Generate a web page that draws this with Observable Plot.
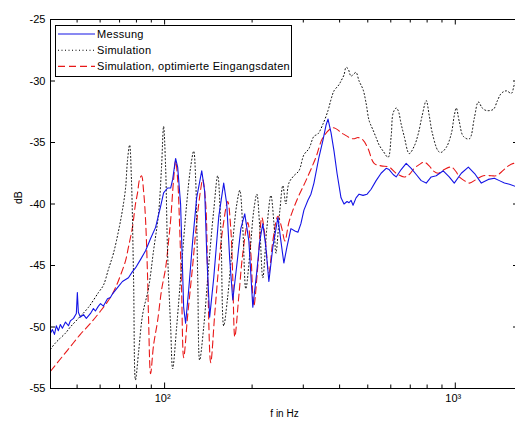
<!DOCTYPE html>
<html><head><meta charset="utf-8">
<script src="https://cdn.jsdelivr.net/npm/d3@7"></script>
<script src="https://cdn.jsdelivr.net/npm/@observablehq/plot@0.6"></script>
<style>body{margin:0;background:#fff;} svg{display:block;overflow:hidden}</style>
</head><body><div id="chart"></div>
<script>
const seriesNames = ["Messung", "Simulation", "Simulation, optimierte Eingangsdaten"];

const messungF = [40.5,41.1,41.8,42.4,43.1,43.8,44.5,45.6,46.7,47.4,48.6,49.7,50.1,50.5,51.3,52.6,53.8,55.6,56.9,57.8,59.2,60.2,61.6,63.6,65.1,66.2,69.4,71.6,75.1,77.5,79.4,82.7,86.0,89.5,93.1,96.9,99.2,102.4,104.9,106.6,109.1,110.9,113.5,116.3,118.1,121.0,124.9,128.9,134.2,137.4,139.6,142.9,147.6,153.6,159.7,163.6,167.5,171.6,177.1,182.9,188.7,194.9,201.1,207.6,212.6,217.7,223.0,228.4,235.7,245.3,251.2,257.2,263.5,272.0,280.7,287.5,294.4,301.5,311.2,318.7,326.4,339.6,350.6,359.1,364.9,373.7,382.7,391.9,404.5,414.2,424.3,431.0,437.9,444.9,455.6,466.7,481.7,497.3,513.3,534.1,555.6,578.3,592.2,611.3,626.1,651.3,677.8,705.3,733.9,763.4,794.3,826.4,860,909,953,992,1049,1109,1172,1229,1299,1363,1418,1476,1536,1623];
const messungDb = [-50.5,-50.2,-50.6,-49.9,-50.3,-49.8,-50.1,-49.6,-49.9,-49.5,-49.3,-48.9,-47.2,-48.8,-49.2,-49.0,-49.3,-48.9,-48.5,-48.7,-48.3,-48.1,-48.3,-47.7,-47.6,-47.3,-46.7,-46.3,-46.0,-45.5,-45.2,-44.5,-43.8,-42.8,-41.9,-40.2,-39.1,-38.7,-38.7,-38.0,-36.3,-37.0,-40.0,-48.4,-49.7,-47.0,-43.0,-39.5,-37.3,-39.0,-44.0,-49.2,-46.0,-41.0,-38.3,-40.0,-44.5,-47.8,-45.0,-42.0,-40.8,-43.0,-48.4,-45.5,-43.0,-41.6,-43.5,-46.3,-43.5,-41.1,-43.0,-44.8,-43.5,-42.0,-42.2,-42.3,-41.6,-40.5,-39.7,-39.2,-38.3,-36.2,-34.8,-33.6,-33.1,-34.2,-35.7,-37.5,-39.5,-40.0,-39.8,-39.9,-39.7,-40.1,-39.5,-39.2,-39.3,-39.2,-38.8,-38.1,-37.5,-37.1,-37.2,-37.6,-37.8,-37.2,-36.7,-37.1,-37.6,-38.1,-38.3,-37.8,-37.7,-37.3,-37.8,-38.3,-37.5,-37.0,-37.6,-38.3,-38.0,-37.9,-38.1,-38.3,-38.4,-38.6];

const simF = [40.5,42.1,43.8,45.6,47.4,50.5,54.7,59.2,61.6,64.1,66.7,69.4,71.6,73.4,74.5,75.8,76.9,78.2,79.4,81.4,84.0,88.1,91.6,95.3,97.6,99.2,100.8,102.4,104.9,106.6,110.0,114.4,119.1,122.9,125.9,127.9,130.0,132.0,136.3,141.8,147.6,152.3,156.1,159.7,164.9,171.6,177.2,181.4,185.8,190.3,196.5,202.7,207.6,212.6,217.7,224.7,232.1,237.6,241.5,249.2,255.2,261.3,267.6,278.5,289.8,301.5,313.7,326.4,337.0,350.6,364.9,373.7,382.7,398.1,404.5,414.2,420.9,427.6,437.9,448.5,455.6,466.7,481.7,493.3,505.1,521.5,534.1,547.0,564.7,587.5,601.7,611.3,626.1,636.1,651.3,667.2,694.2,722.3,745.6,769.5,794.3,813.4,833.0,873.8,894.7,931.1,968.7,992.2,1008,1032,1066,1118,1163,1200,1239,1279,1352,1396,1441,1499,1560,1597,1623];
const simDb = [-51.8,-51.3,-50.9,-50.5,-50.0,-49.3,-48.4,-47.2,-46.6,-45.3,-44.0,-42.2,-40.5,-38.7,-36.5,-35.2,-38.0,-46.0,-54.3,-52.0,-49.0,-46.8,-43.8,-40.8,-37.0,-33.7,-37.0,-44.0,-50.0,-53.4,-50.0,-45.0,-40.0,-37.0,-35.7,-38.0,-46.0,-52.7,-50.0,-45.0,-40.5,-37.7,-42.0,-49.9,-47.5,-43.0,-40.0,-38.9,-42.0,-46.9,-44.0,-40.5,-39.2,-42.0,-46.0,-42.0,-39.3,-41.5,-44.0,-40.5,-38.5,-40.0,-38.3,-37.7,-37.3,-36.0,-35.5,-34.5,-34.3,-33.5,-32.4,-31.5,-30.8,-30.3,-30.0,-29.5,-28.9,-29.0,-29.6,-29.4,-29.3,-30.0,-30.7,-31.8,-33.2,-34.0,-34.6,-35.2,-35.7,-36.2,-34.5,-32.6,-32.2,-32.4,-33.5,-34.5,-35.9,-35.3,-34.3,-32.8,-31.6,-32.8,-34.2,-35.7,-35.8,-35.4,-34.3,-32.8,-32.2,-33.3,-34.5,-34.7,-33.0,-31.7,-32.2,-32.4,-32.3,-31.6,-31.0,-30.8,-31.0,-30.3,-30.1];

const optF = [40.5,43.8,47.4,51.3,55.6,60.2,65.1,67.8,70.5,73.4,75.1,77.5,79.4,80.7,82.0,83.3,84.7,86.0,87.4,88.1,89.5,91.6,94.6,97.6,100.8,103.2,104.9,107.4,109.1,110.9,112.7,114.4,116.3,120.1,124.9,128.9,133.1,135.2,138.5,140.7,144.1,148.7,153.6,158.5,164.9,168.9,171.6,174.4,180.0,185.8,193.3,198.0,202.7,209.3,216.0,221.2,228.4,235.7,245.3,253.2,259.3,267.6,276.3,289.8,306.3,331.6,350.6,379.7,411.0,444.9,463.0,481.7,501.2,525.7,555.6,592.2,626.1,667.2,694.2,722.3,751.2,781.9,813.4,839.7,873.8,916.4,968.7,1008,1032,1074,1118,1181,1249,1331,1385,1441,1523,1585,1623];
const optDb = [-53.6,-52.6,-51.6,-50.6,-49.7,-48.7,-47.6,-46.8,-45.8,-44.6,-43.5,-41.9,-40.0,-39.1,-38.0,-37.7,-39.0,-41.3,-46.0,-49.5,-53.8,-51.5,-49.5,-47.0,-45.2,-43.0,-41.3,-38.0,-36.5,-38.0,-42.0,-47.0,-52.5,-49.0,-45.0,-41.5,-38.8,-38.0,-40.0,-46.0,-52.9,-49.0,-45.0,-42.0,-39.8,-42.0,-46.0,-50.8,-47.5,-44.0,-41.5,-44.0,-48.3,-45.0,-41.1,-42.5,-45.6,-43.0,-41.0,-42.0,-43.0,-41.5,-40.5,-39.3,-38.1,-36.2,-34.6,-33.8,-34.3,-34.7,-34.6,-34.8,-35.5,-36.7,-36.9,-37.0,-37.5,-37.8,-37.6,-37.1,-36.8,-36.6,-36.9,-37.3,-37.5,-37.2,-37.0,-37.4,-37.8,-38.1,-38.3,-38.0,-37.7,-37.7,-37.7,-37.4,-36.9,-36.7,-36.7];

const yTicks = [-55, -50, -45, -40, -35, -30, -25];
const xMajor = [100, 1000];
const xMajorLabels = ["10²", "10³"];
const xMinor = [50, 60, 70, 80, 90, 200, 300, 400, 500, 600, 700, 800, 900];
const xLabel = "f in Hz";
const yLabel = "dB";

const colors = ["#1414e6", "#000000", "#e81818"];

const toRows = (F, D) => F.map((f, i) => ({f, db: D[i]}));
const messung = toRows(messungF, messungDb);
const sim = toRows(simF, simDb);
const opt = toRows(optF, optDb);

const W = 515, H = 421, mL = 50, mT = 19, mR = -3, mB = 33;
const pw = W - mL - mR, ph = H - mT - mB;
const font = "'Liberation Sans', Arial, sans-serif";

const plot = Plot.plot({
  width: W, height: H,
  marginLeft: mL, marginTop: mT, marginRight: mR, marginBottom: mB,
  style: {fontFamily: font, fontSize: "11px", background: "white", color: "#000"},
  x: {type: "log", domain: [40.5, 1650], axis: null},
  y: {domain: [-55, -25], axis: null},
  marks: [
    Plot.line(opt, {x: "f", y: "db", stroke: colors[2], strokeWidth: 1.1, strokeDasharray: "7,4", curve: "catmull-rom", clip: true}),
    Plot.line(sim, {x: "f", y: "db", stroke: colors[1], strokeWidth: 1, strokeDasharray: "1,2.5", curve: "catmull-rom", clip: true}),
    Plot.line(messung, {x: "f", y: "db", stroke: colors[0], strokeWidth: 1.1, clip: true}),
    Plot.frame({stroke: "#000", strokeWidth: 1}),
    Plot.tickY(yTicks, {y: d => d, insetRight: pw - 5, stroke: "#000"}),
    Plot.tickY(yTicks, {y: d => d, insetLeft: pw - 5, stroke: "#000"}),
    Plot.tickX(xMinor, {x: d => d, insetTop: ph - 3.5, stroke: "#000"}),
    Plot.tickX(xMinor, {x: d => d, insetBottom: ph - 3.5, stroke: "#000"}),
    Plot.tickX(xMajor, {x: d => d, insetTop: ph - 5.5, stroke: "#000"}),
    Plot.tickX(xMajor, {x: d => d, insetBottom: ph - 5.5, stroke: "#000"}),
    Plot.text(yTicks, {y: d => d, text: d => String(d), frameAnchor: "left", textAnchor: "end", dx: -5, fontSize: 11}),
    Plot.text(xMajor, {x: d => d, text: (d, i) => xMajorLabels[i], frameAnchor: "bottom", dy: 13, dx: -2, fontSize: 11}),
    Plot.text([xLabel], {frameAnchor: "bottom", dy: 28, fontSize: 10}),
    Plot.text([yLabel], {frameAnchor: "left", rotate: -90, dx: -32, fontSize: 10.5})
  ]
});

const svg = d3.select(plot);
const lg = svg.append("g").attr("font-family", font).attr("font-size", 11).attr("text-anchor", "start");
lg.append("rect").attr("x", 55.5).attr("y", 25.5).attr("width", 236).attr("height", 51)
  .attr("fill", "white").attr("stroke", "#000");
const dashes = [null, "1,2.5", "7,4"];
seriesNames.forEach((name, i) => {
  const y = 34 + i * 16.2;
  lg.append("line").attr("x1", 58).attr("x2", 95).attr("y1", y).attr("y2", y)
    .attr("stroke", colors[i]).attr("stroke-width", 1.1)
    .attr("stroke-dasharray", dashes[i]);
  lg.append("text").attr("x", 97).attr("y", y).attr("dy", "0.35em")
    .attr("text-anchor", "start").attr("letter-spacing", "0.3px").attr("fill", "#000").text(name);
});

document.getElementById("chart").appendChild(plot);
</script>
</body></html>
